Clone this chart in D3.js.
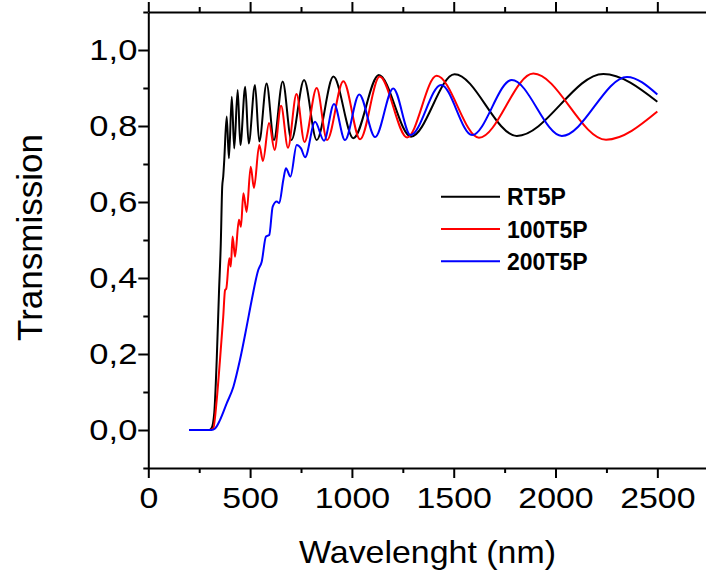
<!DOCTYPE html>
<html>
<head>
<meta charset="utf-8">
<script src="https://cdn.jsdelivr.net/npm/d3@7"></script>
<style>
  html, body { margin: 0; padding: 0; background: #fff; }
  svg { display: block; font-family: "Liberation Sans", Arial, sans-serif; }
</style>
</head>
<body>
<svg id="chart" width="706" height="575"></svg>
<script>
// ---- data (wavelength nm, transmission) ----
const seriesNames = ["RT5P", "100T5P", "200T5P"];
const seriesColors = ["#000000", "#ff0000", "#0000ff"];

const rt5p = [
  [200,0],[300,0],[311,0.005],[324,0.045],[336,0.184],[347,0.36],[356,0.49],[363,0.64],[368,0.667],[373,0.71],
  [385,0.825],[396,0.715],[410,0.877],[422,0.741],[439,0.895],[452,0.75],[476,0.903],[493,0.754],
  [524,0.908],[545,0.759],[581,0.912],[617,0.763],[660,0.917],[703,0.763],[765,0.921],[827,0.763],
  [909,0.93],[1007,0.768],[1132,0.934],[1290,0.772],[1504,0.936],[1810,0.774],[2235,0.937],[2500,0.864]
];
const t100 = [
  [200,0],[300,0],[319,0.004],[336,0.079],[352,0.184],[368,0.298],[377,0.368],[383,0.372],
  [398,0.452],[405,0.43],[414,0.509],[426,0.456],[445,0.553],[455,0.535],[467,0.623],[483,0.574],
  [503,0.693],[519,0.637],[545,0.75],[563,0.708],[593,0.808],[620,0.737],[652,0.853],[686,0.743],
  [728,0.884],[767,0.758],[827,0.9],[878,0.763],[958,0.918],[1040,0.765],[1136,0.93],[1271,0.77],
  [1416,0.932],[1624,0.769],[1891,0.938],[2248,0.764],[2500,0.838]
];
const t200 = [
  [200,0],[310,0],[328,0.004],[352,0.026],[385,0.07],[418,0.114],[450,0.184],[483,0.272],[508,0.342],
  [540,0.421],[557,0.443],[578,0.509],[594,0.513],[611,0.588],[631,0.601],[643,0.597],[663,0.658],
  [676,0.689],[698,0.667],[729,0.75],[750,0.741],[770,0.718],[819,0.811],[863,0.761],[912,0.858],
  [966,0.763],[1036,0.883],[1114,0.771],[1203,0.899],[1288,0.776],[1438,0.908],[1590,0.776],
  [1785,0.921],[2031,0.774],[2351,0.929],[2500,0.883]
];
const allSeries = [rt5p, t100, t200];

const xMajorTicks = [0, 500, 1000, 1500, 2000, 2500];
const xMinorTicks = [250, 750, 1250, 1750, 2250];
const yMajorTicks = [0, 0.2, 0.4, 0.6, 0.8, 1.0];
const yMinorTicks = [-0.1, 0.1, 0.3, 0.5, 0.7, 0.9, 1.1];
const xTitle = "Wavelenght (nm)";
const yTitle = "Transmission";

// ---- layout ----
const svg = d3.select("#chart");
const mLeft = 148.3, mRight = 706.2, mTop = 12, mBottom = 468;
const x = d3.scaleLinear().domain([0, 2740]).range([mLeft, mRight]);
const y = d3.scaleLinear().domain([-0.1, 1.1]).range([mBottom, mTop]);

const fmtY = d => d3.format(".1f")(d).replace(".", ",");
const FONT = "Liberation Sans, Arial, sans-serif";

// curves
const line = d3.line().x(d => x(d[0])).y(d => y(d[1])).curve(d3.curveMonotoneX);
const g = svg.append("g");
allSeries.forEach((s, i) => {
  g.append("path").datum(s)
    .attr("d", line)
    .attr("fill", "none")
    .attr("stroke", seriesColors[i])
    .attr("stroke-width", 2)
    .attr("stroke-linejoin", "round");
});

// axes
function styleAxis(sel) {
  sel.select(".domain").attr("stroke", "#000").attr("stroke-width", 2);
  sel.selectAll(".tick line").attr("stroke", "#000").attr("stroke-width", 2);
}
// bottom
const gb = svg.append("g").attr("transform", `translate(0,${mBottom})`)
  .call(d3.axisBottom(x).tickValues(xMajorTicks).tickSize(10).tickSizeOuter(0).tickPadding(9).tickFormat(d3.format("d")));
styleAxis(gb);
gb.selectAll("text").attr("font-size", 30).attr("fill", "#000").attr("font-family", FONT)
  .attr("transform", "scale(1.13,1)");
const gbm = svg.append("g").attr("transform", `translate(0,${mBottom})`)
  .call(d3.axisBottom(x).tickValues(xMinorTicks).tickSize(5).tickSizeOuter(0).tickFormat(""));
styleAxis(gbm); gbm.select(".domain").remove();

// top
const gt = svg.append("g").attr("transform", `translate(0,${mTop})`)
  .call(d3.axisTop(x).tickValues(xMajorTicks).tickSize(10).tickSizeOuter(0).tickFormat(""));
styleAxis(gt);
const gtm = svg.append("g").attr("transform", `translate(0,${mTop})`)
  .call(d3.axisTop(x).tickValues(xMinorTicks).tickSize(5).tickSizeOuter(0).tickFormat(""));
styleAxis(gtm); gtm.select(".domain").remove();

// left
const gl = svg.append("g").attr("transform", `translate(${mLeft},0)`)
  .call(d3.axisLeft(y).tickValues(yMajorTicks).tickSize(10).tickSizeOuter(0).tickPadding(2).tickFormat(fmtY));
styleAxis(gl);
gl.selectAll("text").attr("font-size", 30).attr("fill", "#000").attr("font-family", FONT)
  .attr("x", -11 / 1.15).attr("transform", "scale(1.15,1)");
const glm = svg.append("g").attr("transform", `translate(${mLeft},0)`)
  .call(d3.axisLeft(y).tickValues(yMinorTicks).tickSize(5).tickSizeOuter(0).tickFormat(""));
styleAxis(glm); glm.select(".domain").remove();

// titles
svg.append("text")
  .attr("transform", `translate(427.5,563) scale(1.06,1)`)
  .attr("text-anchor", "middle").attr("font-size", 32).text(xTitle);
svg.append("text").attr("transform", `translate(41.5,237.5) rotate(-90)`)
  .attr("text-anchor", "middle").attr("font-size", 35).text(yTitle);

// legend
const legY = [196.7, 229, 261.3];
seriesNames.forEach((n, i) => {
  svg.append("line").attr("x1", 441).attr("x2", 500).attr("y1", legY[i]).attr("y2", legY[i])
    .attr("stroke", seriesColors[i]).attr("stroke-width", 2);
  svg.append("text").attr("x", 507).attr("y", legY[i] + 8.5)
    .attr("font-size", 23).attr("font-weight", "bold").text(n);
});
</script>
</body>
</html>
